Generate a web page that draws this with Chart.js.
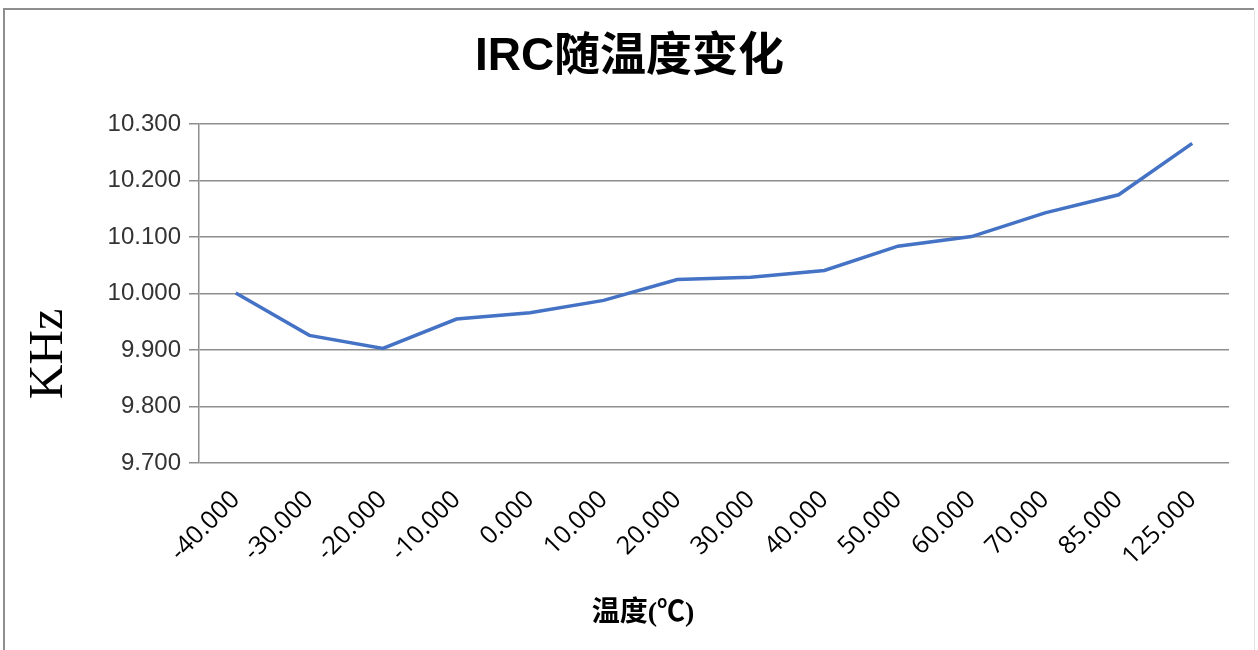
<!DOCTYPE html>
<html>
<head>
<meta charset="utf-8">
<title>IRC随温度变化</title>
<script src="https://cdn.jsdelivr.net/npm/chart.js@4"></script>
<style>
  html, body { margin: 0; padding: 0; background: #fff; }
  #wrap { width: 1258px; height: 650px; position: relative; }
</style>
</head>
<body>
<div id="wrap"><canvas id="ircChart" width="1258" height="650"></canvas></div>
<script>
// temperature points (°C) and measured IRC frequency (KHz)
const temps = ['-40.000', '-30.000', '-20.000', '-10.000', '0.000', '10.000', '20.000',
               '30.000', '40.000', '50.000', '60.000', '70.000', '85.000', '125.000'];
const freqKHz = [10.001, 9.926, 9.903, 9.955, 9.966, 9.988, 10.025,
                 10.029, 10.041, 10.084, 10.101, 10.143, 10.175, 10.266];
const yTicks = [9.7, 9.8, 9.9, 10.0, 10.1, 10.2, 10.3];

const GRID = '#8e8e8e';

// frame around the chart + the two axis captions
const decor = {
  id: 'decor',
  beforeDraw(chart) {
    const ctx = chart.ctx;
    ctx.save();
    ctx.fillStyle = '#fff';
    ctx.fillRect(0, 0, chart.width, chart.height);
    ctx.strokeStyle = GRID;
    ctx.lineWidth = 2;
    ctx.beginPath();
    ctx.moveTo(4, chart.height + 5);
    ctx.lineTo(4, 9);
    ctx.lineTo(chart.width - 4, 9);
    ctx.stroke();
    ctx.strokeStyle = '#e2e2e2';
    ctx.lineWidth = 1;
    ctx.beginPath();
    ctx.moveTo(chart.width - 3.5, 10);
    ctx.lineTo(chart.width - 3.5, chart.height);
    ctx.stroke();
    ctx.restore();
  },
  afterDraw(chart) {
    const ctx = chart.ctx;
    ctx.save();
    ctx.fillStyle = '#000';
    ctx.textAlign = 'center';
    ctx.textBaseline = 'middle';
    ctx.font = 'bold 28px "Liberation Serif", "Noto Sans CJK SC", serif';
    ctx.fillText('温度(℃)', 643, 614);
    ctx.translate(47, 354);
    ctx.rotate(-Math.PI / 2);
    ctx.font = '48px "Liberation Serif", serif';
    ctx.fillText('KHz', 0, 2);
    ctx.restore();
  }
};

const ctx = document.getElementById('ircChart').getContext('2d');
new Chart(ctx, {
  type: 'line',
  data: {
    labels: temps,
    datasets: [{
      label: 'KHz',
      data: freqKHz,
      borderColor: '#4472C4',
      borderWidth: 3.5,
      pointRadius: 0,
      tension: 0,
      fill: false
    }]
  },
  options: {
    responsive: false,
    animation: false,
    layout: { padding: { left: 30, right: 29, top: 0, bottom: 0 } },
    plugins: {
      legend: { display: false },
      tooltip: { enabled: false },
      title: {
        display: true,
        text: 'IRC随温度变化',
        color: '#000',
        font: { family: '"Liberation Sans", "Noto Sans CJK SC", sans-serif', size: 46, weight: 'bold', lineHeight: 1.2 },
        padding: { top: 30, bottom: 39 }
      }
    },
    scales: {
      x: {
        offset: true,
        grid: { display: false, drawTicks: false },
        border: { display: false },
        ticks: {
          autoSkip: false,
          maxRotation: 45,
          minRotation: 45,
          padding: 22,
          color: '#000',
          font: { family: '"Open Sans", sans-serif', size: 25 }
        },
        afterFit(scale) { scale.height = 187; }
      },
      y: {
        min: 9.7,
        max: 10.3,
        afterBuildTicks(scale) { scale.ticks = yTicks.map(v => ({ value: v })); },
        grid: { color: GRID, lineWidth: 1.5, drawTicks: true, tickLength: 10, tickColor: GRID },
        border: { display: true, color: GRID, width: 1.5 },
        ticks: {
          padding: 8,
          color: '#333',
          font: { family: '"Liberation Sans", sans-serif', size: 24 },
          callback: v => Number(v).toFixed(3)
        },
        afterFit(scale) { scale.width = 169; }
      }
    }
  },
  plugins: [decor]
});
</script>
</body>
</html>
